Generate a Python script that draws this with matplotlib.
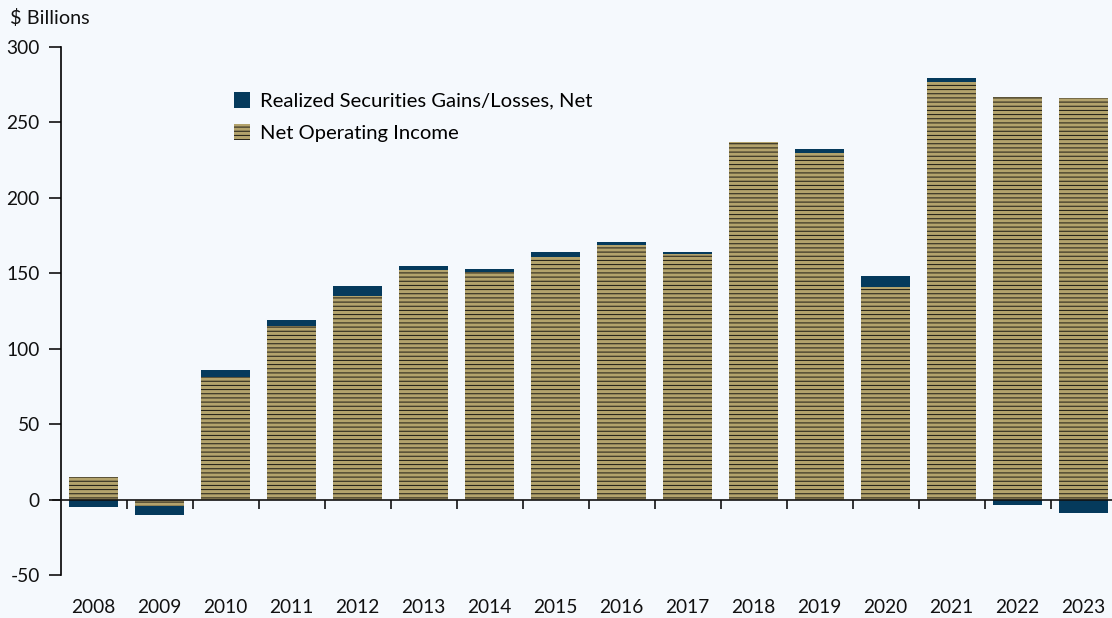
import matplotlib
matplotlib.use('Agg')
import matplotlib.pyplot as plt
from matplotlib.patches import Patch
import numpy as np

years = ['2008', '2009', '2010', '2011', '2012', '2013', '2014', '2015',
         '2016', '2017', '2018', '2019', '2020', '2021', '2022', '2023']
net_operating_income = [15, -4.5, 81, 115, 135, 152, 151, 161,
                        168.5, 163, 237, 229.5, 141, 276.5, 267, 266]
realized_gains = [-4.7, -6, 5, 4, 6.5, 3, 2, 3,
                  2, 1, 0, 3, 7, 3, -3.5, -9]

navy = '#053a5c'
tan = '#b3a36c'
bg = '#f5f9fd'
hatch_col = '#1c1a14'

plt.rcParams['font.family'] = ['Lato', 'DejaVu Sans']
plt.rcParams['hatch.color'] = hatch_col
plt.rcParams['hatch.linewidth'] = 0.7

fig = plt.figure(figsize=(11.12, 6.18), dpi=100, facecolor=bg)
ax = fig.add_axes([60.5 / 1112, 1 - 575 / 618, (1112 - 60.5) / 1112, 528 / 618])
ax.set_facecolor(bg)

x = np.arange(len(years))
noi = np.array(net_operating_income)
gains = np.array(realized_gains)

# gains stack on top of income when positive, below zero (or below a negative income) when negative
gain_bottom = np.where(gains >= 0, np.maximum(noi, 0), np.minimum(noi, 0))

ax.bar(x, noi, width=0.74, color=tan, edgecolor=hatch_col, linewidth=0, hatch='----', zorder=2)
ax.bar(x, gains, width=0.74, bottom=gain_bottom, color=navy, edgecolor='none', zorder=2)

ax.set_xlim(-0.5, 15.5 - 4.5 / 66)
ax.set_ylim(-50, 300)
ax.set_yticks([-50, 0, 50, 100, 150, 200, 250, 300])
ax.set_yticklabels(['-50', '0', '50', '100', '150', '200', '250', '300'])

for s in ['top', 'right', 'bottom']:
    ax.spines[s].set_visible(False)
ax.spines['left'].set_linewidth(1.2)
ax.tick_params(axis='y', length=9, width=1.2, labelsize=13.8, pad=6, colors='#111111')
ax.tick_params(axis='x', length=0, labelsize=13.8, pad=17, colors='#111111')
ax.set_xticks(x)
ax.set_xticklabels(years)

# zero line and category boundary ticks
ax.plot([-0.62, 15.5], [0, 0], color='#111111', lw=1.2, clip_on=False, zorder=3)
bounds = x[:-1] + 0.5
ax.vlines(bounds, -6, 0, color='#111111', lw=1.2, zorder=3)

fig.text(10 / 1112, 1 - 18 / 618, '$ Billions', fontsize=14.3, va='center', ha='left', color='#111111')

handles = [Patch(facecolor=navy, edgecolor='none', label='Realized Securities Gains/Losses, Net'),
           Patch(facecolor=tan, edgecolor=hatch_col, linewidth=0, hatch='----', label='Net Operating Income')]
ax.legend(handles=handles, loc='upper left', bbox_to_anchor=(234 / 1112, 1 - 92 / 618),
          bbox_transform=fig.transFigure, frameon=False, fontsize=14.6,
          handlelength=0.8, handleheight=0.8, handletextpad=0.5,
          labelspacing=0.7, borderpad=0, borderaxespad=0)

fig.savefig('out.png', dpi=100, facecolor=bg)
